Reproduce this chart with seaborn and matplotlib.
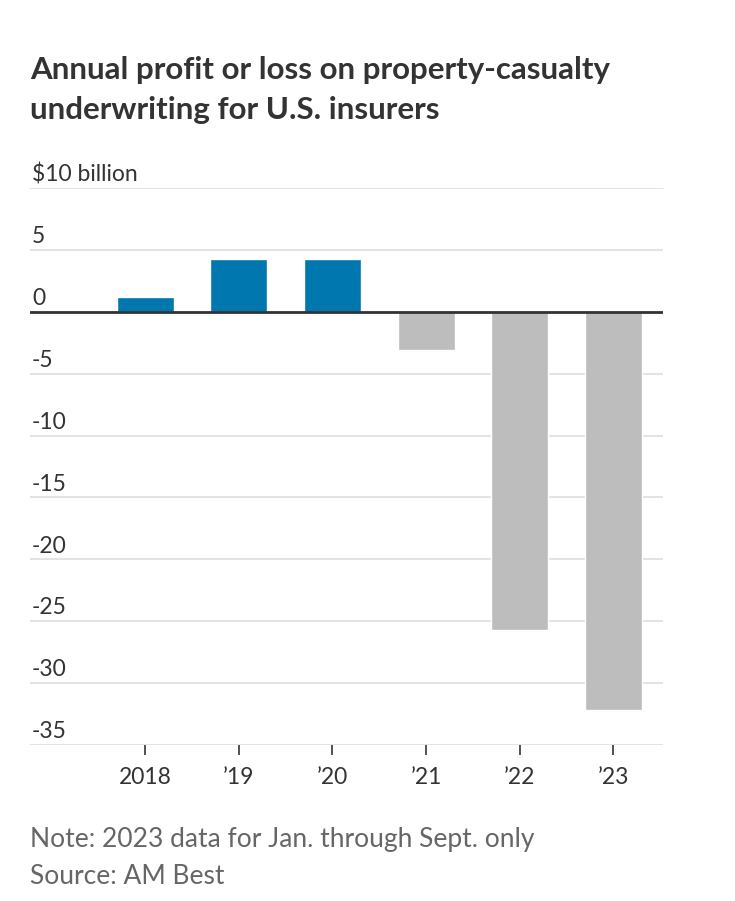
import matplotlib
matplotlib.use("Agg")
import matplotlib.pyplot as plt
import seaborn as sns
import pandas as pd

years = ["2018", "\u201919", "\u201920", "\u201921", "\u201922", "\u201923"]
values = [1.2, 4.3, 4.3, -3.1, -25.7, -32.2]
yticks = [10, 5, 0, -5, -10, -15, -20, -25, -30, -35]
ytick_labels = ["$10 billion", "5", "0", "-5", "-10", "-15", "-20", "-25", "-30", "-35"]
title = "Annual profit or loss on property-casualty\nunderwriting for U.S. insurers"
note = "Note: 2023 data for Jan. through Sept. only\nSource: AM Best"

sns.set_theme(style="white")
plt.rcParams["font.family"] = ["Lato", "DejaVu Sans"]

df = pd.DataFrame({"year": years, "value": values})
df["sign"] = ["pos" if v >= 0 else "neg" for v in values]

fig = plt.figure(figsize=(7.35, 9.01), dpi=100)
ax = fig.add_axes([30/735, 1-745/901, (663-30)/735, (745-188)/901])

sns.barplot(data=df, x="year", y="value", hue="sign", order=years,
            palette={"pos": "#0077ae", "neg": "#bdbdbd"}, dodge=False,
            width=0.61, legend=False, ax=ax, saturation=1)

ax.set_xlim(-1.23, 5.53)
ax.set_ylim(-35, 10)
for t in yticks:
    ax.axhline(t, color="#e3e3e3", lw=1.4, zorder=0)
ax.axhline(0, color="#333333", lw=2, zorder=3)

for t, lab in zip(yticks, ytick_labels):
    ax.text(0.003, t + 0.55, lab, transform=ax.get_yaxis_transform(),
            ha="left", va="baseline", fontsize=16.5, color="#333333")

ax.set_yticks([])
ax.set_xlabel("")
ax.set_ylabel("")
ax.set_xticks(range(len(years)))
ax.set_xticklabels(years, fontsize=16.5, color="#333333")
ax.tick_params(axis="x", length=7.5, width=1.2, color="#333333", pad=8, bottom=True)
for s in ax.spines.values():
    s.set_visible(False)

fig.text(30/735, 1-56/901, title, ha="left", va="top", fontsize=22.5,
         fontweight="bold", color="#333333", linespacing=1.5)
fig.text(30/735, 1-827/901, note, ha="left", va="top", fontsize=19,
         color="#666666", linespacing=1.62)

fig.savefig("out.png", dpi=100)
